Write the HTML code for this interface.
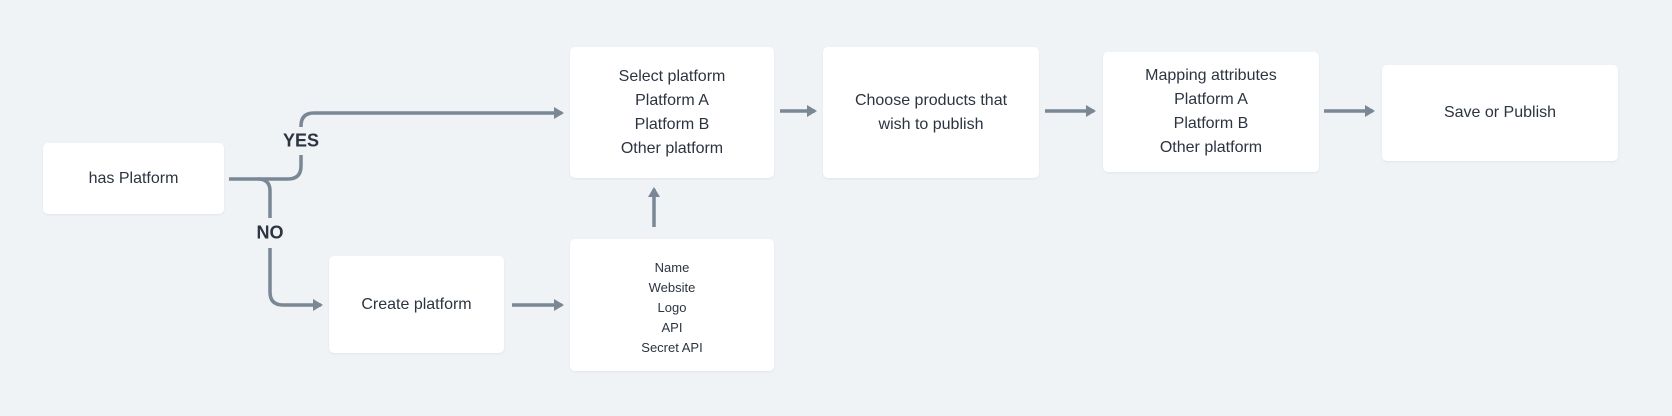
<!DOCTYPE html>
<html><head><meta charset="utf-8"><style>
body{margin:0;width:1672px;height:416px;background:#eff3f6;position:relative;overflow:hidden;font-family:"Liberation Sans",sans-serif;color:#2b3440}
.b{position:absolute;background:#fff;border-radius:5px;box-shadow:0 1px 2px rgba(0,0,0,.06);display:flex;align-items:center;justify-content:center;text-align:center;font-size:16px;line-height:24px}
.s{font-size:13px;line-height:20px}
svg{position:absolute;left:0;top:0}
.l{position:absolute;font-weight:bold;font-size:18px;transform:translate(-50%,-50%);color:#2b3440}
</style></head><body>
<svg width="1672" height="416">
<defs><marker id="a" markerWidth="10" markerHeight="12" refX="8" refY="6" orient="auto" markerUnits="userSpaceOnUse"><path d="M0,0 L10,6 L0,12 z" fill="#7a8795"/></marker></defs>
<g stroke="#7a8795" stroke-width="3.5" fill="none">
<path d="M229,179 H288 Q301,179 301,166 V155"/>
<path d="M301,127 V126 Q301,113 314,113 H562" marker-end="url(#a)"/>
<path d="M258,179 Q270,179 270,191 V218"/>
<path d="M270,248 V292 Q270,305 283,305 H321" marker-end="url(#a)"/>
<path d="M512,305 H562" marker-end="url(#a)"/>
<path d="M654,227 V189" marker-end="url(#a)"/>
<path d="M780,111 H815" marker-end="url(#a)"/>
<path d="M1045,111 H1094" marker-end="url(#a)"/>
<path d="M1324,111 H1373" marker-end="url(#a)"/>
</g></svg>
<div class="l" style="left:301px;top:141px">YES</div>
<div class="l" style="left:270px;top:233px">NO</div>
<div class="b" style="left:43px;top:143px;width:181px;height:71px">has Platform</div>
<div class="b" style="left:570px;top:47px;width:204px;height:131px">Select platform<br>Platform A<br>Platform B<br>Other platform</div>
<div class="b" style="left:823px;top:47px;width:216px;height:131px">Choose products that<br>wish to publish</div>
<div class="b" style="left:1103px;top:52px;width:216px;height:120px">Mapping attributes<br>Platform A<br>Platform B<br>Other platform</div>
<div class="b" style="left:1382px;top:65px;width:236px;height:96px">Save or Publish</div>
<div class="b" style="left:329px;top:256px;width:175px;height:97px">Create platform</div>
<div class="b s" style="left:570px;top:239px;width:204px;height:132px;padding-top:6px;box-sizing:border-box">Name<br>Website<br>Logo<br>API<br>Secret API</div>
</body></html>
